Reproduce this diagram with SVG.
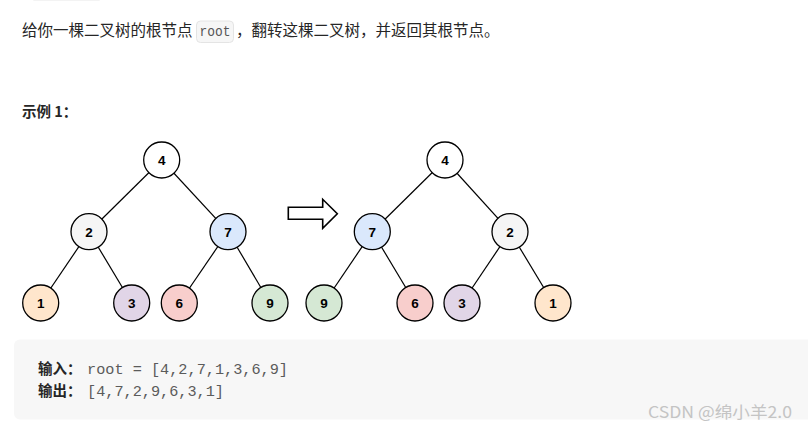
<svg xmlns="http://www.w3.org/2000/svg" width="808" height="431" viewBox="0 0 808 431">
<style>
.cn{font-family:"Noto Sans CJK SC","Noto Sans",sans-serif;font-size:15.5px;fill:#262626}
.node circle{stroke:#000;stroke-width:1.3}
.node text{font-family:"Liberation Sans",Arial,sans-serif;font-weight:bold;font-size:13.5px;fill:#000;text-anchor:middle}
.edge{stroke:#000;stroke-width:1.2}
.mono{font-family:"Liberation Mono","DejaVu Sans Mono",monospace;font-size:15px;fill:#5b5b5b}
</style>
<rect width="808" height="431" fill="#fff"/>
<rect x="30" y="-20" width="73" height="20" rx="4" fill="#fff" stroke="#e8e8e8"/>
<text class="cn" x="22" y="36">给你一棵二叉树的根节点</text>
<rect x="196.5" y="21" width="37" height="21.5" rx="4" fill="#f6f6f6" stroke="#e4e4e4"/>
<text x="199.5" y="36" textLength="31" lengthAdjust="spacingAndGlyphs" style="font-family:'Liberation Mono',monospace;font-size:14px;fill:#555">root</text>
<text class="cn" x="236" y="36">，翻转这棵二叉树，并返回其根节点。</text>
<text x="22" y="117" style="font-family:'Noto Sans CJK SC',sans-serif;font-weight:bold;font-size:14.5px;fill:#262626">示例 1：</text>

<g id="connectors">
<line class="edge" x1="161.7" y1="160" x2="89" y2="231.7"/>
<line class="edge" x1="161.7" y1="160" x2="228" y2="231.7"/>
<line class="edge" x1="89" y1="231.7" x2="40.7" y2="303"/>
<line class="edge" x1="89" y1="231.7" x2="131.7" y2="303"/>
<line class="edge" x1="228" y1="231.7" x2="179.3" y2="303"/>
<line class="edge" x1="228" y1="231.7" x2="270" y2="303"/>
<line class="edge" x1="445" y1="160" x2="372.3" y2="231.7"/>
<line class="edge" x1="445" y1="160" x2="510" y2="231.7"/>
<line class="edge" x1="372.3" y1="231.7" x2="324" y2="303"/>
<line class="edge" x1="372.3" y1="231.7" x2="415" y2="303"/>
<line class="edge" x1="510" y1="231.7" x2="462" y2="303"/>
<line class="edge" x1="510" y1="231.7" x2="553" y2="303"/>
</g>

<g id="L4" class="node"><circle cx="161.7" cy="160" r="18" fill="#fff"/><text x="161.7" y="164.8">4</text></g>
<g id="L2" class="node"><circle cx="89" cy="231.7" r="18" fill="#f5f5f5"/><text x="89" y="236.5">2</text></g>
<g id="L7" class="node"><circle cx="228" cy="231.7" r="18" fill="#dae8fc"/><text x="228" y="236.5">7</text></g>
<g id="L1" class="node"><circle cx="40.7" cy="303" r="18" fill="#ffe6cc"/><text x="40.7" y="307.8">1</text></g>
<g id="L3" class="node"><circle cx="131.7" cy="303" r="18" fill="#e1d5e7"/><text x="131.7" y="307.8">3</text></g>
<g id="L6" class="node"><circle cx="179.3" cy="303" r="18" fill="#f8cecc"/><text x="179.3" y="307.8">6</text></g>
<g id="L9" class="node"><circle cx="270" cy="303" r="18" fill="#d5e8d4"/><text x="270" y="307.8">9</text></g>

<g id="R4" class="node"><circle cx="445" cy="160" r="18" fill="#fff"/><text x="445" y="164.8">4</text></g>
<g id="R7" class="node"><circle cx="372.3" cy="231.7" r="18" fill="#dae8fc"/><text x="372.3" y="236.5">7</text></g>
<g id="R2" class="node"><circle cx="510" cy="231.7" r="18" fill="#f5f5f5"/><text x="510" y="236.5">2</text></g>
<g id="R9" class="node"><circle cx="324" cy="303" r="18" fill="#d5e8d4"/><text x="324" y="307.8">9</text></g>
<g id="R6" class="node"><circle cx="415" cy="303" r="18" fill="#f8cecc"/><text x="415" y="307.8">6</text></g>
<g id="R3" class="node"><circle cx="462" cy="303" r="18" fill="#e1d5e7"/><text x="462" y="307.8">3</text></g>
<g id="R1" class="node"><circle cx="553" cy="303" r="18" fill="#ffe6cc"/><text x="553" y="307.8">1</text></g>

<g id="arrow"><polygon points="288.3,207.3 322.7,207.3 322.7,199.3 337.3,213.8 322.7,228.3 322.7,219.3 288.3,219.3" fill="#fff" stroke="#000" stroke-width="1.6" stroke-linejoin="miter"/></g>

<rect x="14" y="339.5" width="810" height="80" rx="6" fill="#f7f7f7"/>
<text x="38" y="374" style="font-family:'Noto Sans CJK SC',sans-serif;font-weight:bold;font-size:14.5px;fill:#262626">输入：</text>
<text class="mono" x="87" y="374" textLength="201" lengthAdjust="spacingAndGlyphs">root = [4,2,7,1,3,6,9]</text>
<text x="38" y="396" style="font-family:'Noto Sans CJK SC',sans-serif;font-weight:bold;font-size:14.5px;fill:#262626">输出：</text>
<text class="mono" x="87" y="396" textLength="137" lengthAdjust="spacingAndGlyphs">[4,7,2,9,6,3,1]</text>
<text x="648" y="418" textLength="144" lengthAdjust="spacingAndGlyphs" style="font-family:'Noto Sans CJK SC',sans-serif;font-size:16px;fill:#c4c4c4">CSDN @绵小羊2.0</text>
</svg>
